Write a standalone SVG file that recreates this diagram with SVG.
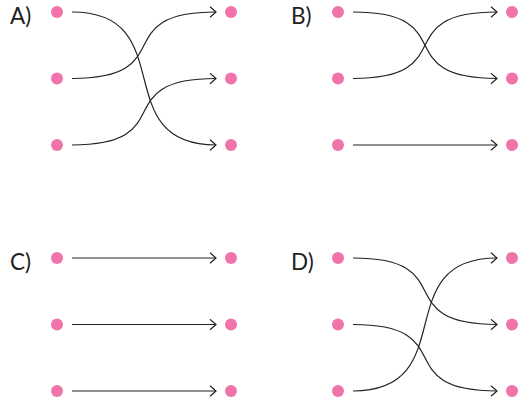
<svg xmlns="http://www.w3.org/2000/svg" width="531" height="404" viewBox="0 0 531 404">
<defs>
<marker id="arr" markerWidth="10" markerHeight="12" refX="8" refY="6" orient="auto" markerUnits="userSpaceOnUse">
<path d="M2,0.8 L8,6 L2,11.2" fill="none" stroke="#222" stroke-width="1.2"/>
</marker>
<style>
.dot{fill:#f074aa}
.lbl{font-family:Lato,"Open Sans",sans-serif;font-size:22.5px;fill:#222}
.c{fill:none;stroke:#222;stroke-width:1.2;marker-end:url(#arr)}
</style>
</defs>
<rect width="531" height="404" fill="#fff"/>
<g id="labels">
<text class="lbl" x="10" y="24">A)</text>
<text class="lbl" x="291" y="24">B)</text>
<text class="lbl" x="10" y="270">C)</text>
<text class="lbl" x="291" y="270">D)</text>
</g>
<g id="nodesA">
<circle class="dot" cx="57" cy="12" r="6"/><circle class="dot" cx="57" cy="78.5" r="6"/><circle class="dot" cx="57" cy="145" r="6"/>
<circle class="dot" cx="231" cy="12" r="6"/><circle class="dot" cx="231" cy="78.5" r="6"/><circle class="dot" cx="231" cy="145" r="6"/>
</g>
<g id="nodesB">
<circle class="dot" cx="338" cy="12" r="6"/><circle class="dot" cx="338" cy="78.5" r="6"/><circle class="dot" cx="338" cy="145" r="6"/>
<circle class="dot" cx="512" cy="12" r="6"/><circle class="dot" cx="512" cy="78.5" r="6"/><circle class="dot" cx="512" cy="145" r="6"/>
</g>
<g id="nodesC">
<circle class="dot" cx="57" cy="258" r="6"/><circle class="dot" cx="57" cy="324.5" r="6"/><circle class="dot" cx="57" cy="391" r="6"/>
<circle class="dot" cx="231" cy="258" r="6"/><circle class="dot" cx="231" cy="324.5" r="6"/><circle class="dot" cx="231" cy="391" r="6"/>
</g>
<g id="nodesD">
<circle class="dot" cx="338" cy="258" r="6"/><circle class="dot" cx="338" cy="324.5" r="6"/><circle class="dot" cx="338" cy="391" r="6"/>
<circle class="dot" cx="512" cy="258" r="6"/><circle class="dot" cx="512" cy="324.5" r="6"/><circle class="dot" cx="512" cy="391" r="6"/>
</g>
<g id="connectors">
<path class="c" d="M72,12 C182,12 106,145 216,145"/>
<path class="c" d="M72,78.5 C182,78.5 106,12 216,12"/>
<path class="c" d="M72,145 C182,145 106,78.5 216,78.5"/>
<path class="c" d="M353,12 C463,12 387,78.5 497,78.5"/>
<path class="c" d="M353,78.5 C463,78.5 387,12 497,12"/>
<path class="c" d="M353,145 L497,145"/>
<path class="c" d="M72,258 L216,258"/>
<path class="c" d="M72,324.5 L216,324.5"/>
<path class="c" d="M72,391 L216,391"/>
<path class="c" d="M353,258 C463,258 387,324.5 497,324.5"/>
<path class="c" d="M353,324.5 C463,324.5 387,391 497,391"/>
<path class="c" d="M353,391 C463,391 387,258 497,258"/>
</g>
</svg>
